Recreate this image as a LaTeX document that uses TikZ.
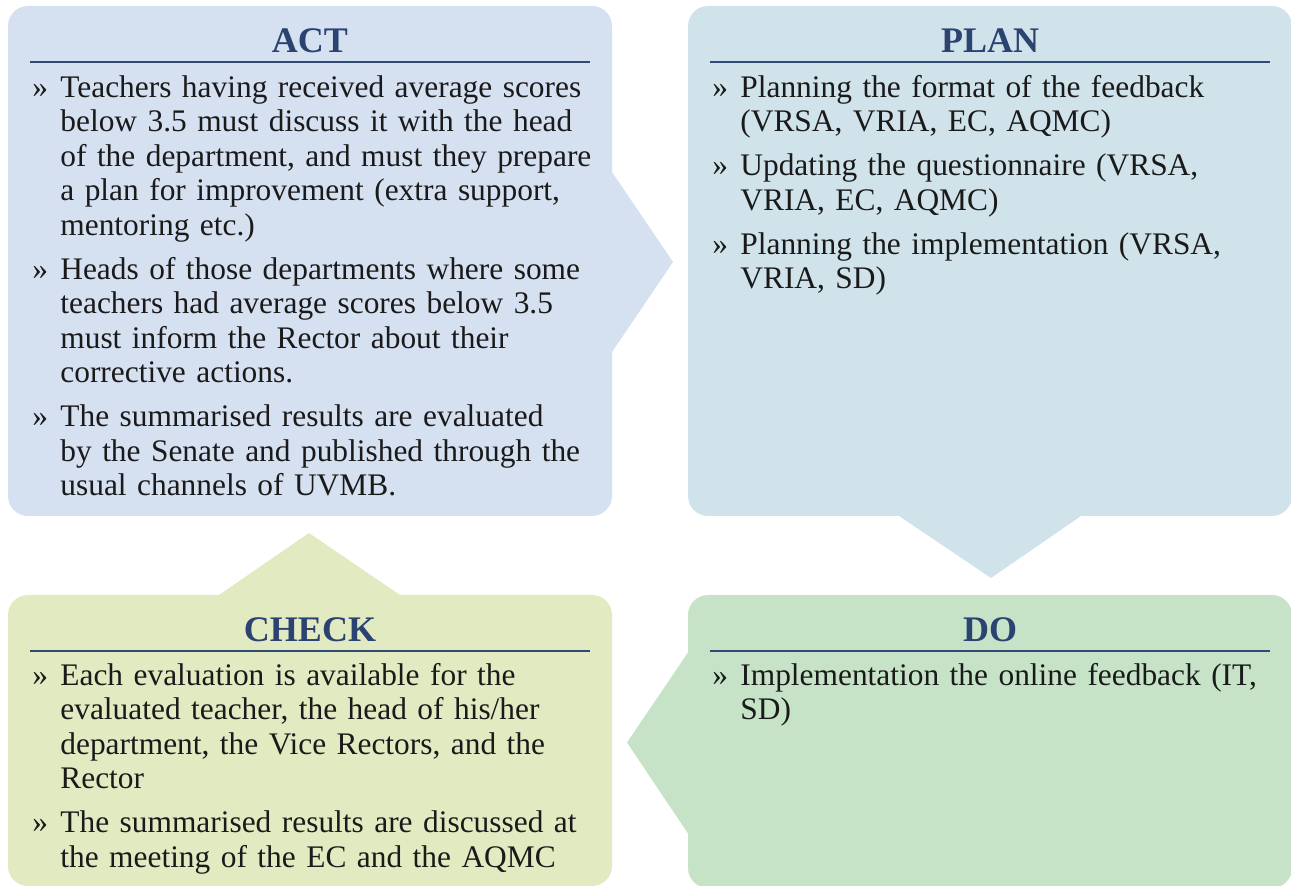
\documentclass[tikz,border=0pt]{standalone}
\usepackage{fontspec}
\setmainfont{Liberation Serif}
\usepackage{xcolor}
\newcommand{\StageAct}
{ACT}
\newcommand{\StagePlan}
{PLAN}
\newcommand{\StageDo}
{DO}
\newcommand{\StageCheck}
{CHECK}
\newcommand{\StageItem}
{\par\leftskip=14pt\noindent\strut\llap{\makebox[14pt][l]{»}}}
\usetikzlibrary{calc}

\begin{document}
\begin{tikzpicture}[x=0.5pt, y=-0.5pt,
    stagebox/.style={rounded corners=10pt, inner sep=0pt, outer sep=0pt, minimum width=302pt},
    stagetitle/.style={anchor=base, font=\bfseries\fontsize{18}{20}\selectfont, text=titleblue},
    stagerule/.style={draw=ruleblue, line width=1pt},
    stagetext/.style={anchor=north west, inner sep=0pt, text width=290pt, align=left,
        font=\fontsize{15.7}{17.25}\selectfont, text=textblack,
        execute at begin node={\setlength{\parskip}{4.75pt}}}]
    \useasboundingbox (0,0) rectangle (1291,886);

    % Define colors
    \definecolor{actfill}{RGB}{213,224,241}
    \definecolor{planfill}{RGB}{208,227,234}
    \definecolor{checkfill}{RGB}{226,234,194}
    \definecolor{dofill}{RGB}{198,227,200}
    \definecolor{titleblue}{RGB}{43,67,113}
    \definecolor{ruleblue}{RGB}{46,74,117}
    \definecolor{textblack}{RGB}{26,26,26}

    % Draw four stage boxes
    \node[stagebox, fill=actfill, minimum height=255pt] (act) at (310,261) {};
    \node[stagebox, fill=planfill, minimum height=255pt] (plan) at (990,261) {};
    \node[stagebox, fill=checkfill, minimum height=145.5pt] (check) at (310,740.5) {};
    \node[stagebox, fill=dofill, minimum height=146.5pt] (do) at (990,741.5) {};

    % Draw arrow heads from one stage to the next
    \fill[actfill] ($(act.east)+(0,-89)$) -- ($(act.east)+(61,1)$) -- ($(act.east)+(0,91)$) -- cycle;
    \fill[planfill] ($(plan.south)+(-91,0)$) -- ($(plan.south)+(1,62)$) -- ($(plan.south)+(91,0)$) -- cycle;
    \fill[dofill] ($(do.west)+(0,-89)$) -- ($(do.west)+(-61,1)$) -- ($(do.west)+(0,92)$) -- cycle;
    \fill[checkfill] ($(check.north)+(-91,0)$) -- ($(check.north)+(-1,-62)$) -- ($(check.north)+(90,0)$) -- cycle;

    % Set stage titles
    \node[stagetitle] (acttitle) at ($(act.north)+(0,47)$) {\StageAct};
    \node[stagetitle] (plantitle) at ($(plan.north)+(0,47)$) {\StagePlan};
    \node[stagetitle] (checktitle) at ($(check.north)+(0,47)$) {\StageCheck};
    \node[stagetitle] (dotitle) at ($(do.north)+(0,47)$) {\StageDo};

    % Rules under the titles
    \draw[stagerule] ($(act.north west)+(22,56)$) -- ($(act.north east)+(-22,56)$);
    \draw[stagerule] ($(plan.north west)+(22,56)$) -- ($(plan.north east)+(-22,56)$);
    \draw[stagerule] ($(check.north west)+(22,56)$) -- ($(check.north east)+(-22,56)$);
    \draw[stagerule] ($(do.north west)+(22,56)$) -- ($(do.north east)+(-22,56)$);

    % Stage texts
    \node[stagetext] (acttext) at ($(act.north west)+(24,47)$) {%
        \StageItem Teachers having received average scores\\
        below 3.5 must discuss it with the head\\
        of the department, and must they prepare\\
        a plan for improvement (extra support,\\
        mentoring etc.)
        \StageItem Heads of those departments where some\\
        teachers had average scores below 3.5\\
        must inform the Rector about their\\
        corrective actions.
        \StageItem The summarised results are evaluated\\
        by the Senate and published through the\\
        usual channels of UVMB.\par};
    \node[stagetext] (plantext) at ($(plan.north west)+(24,47)$) {%
        \StageItem Planning the format of the feedback\\
        (VRSA, VRIA, EC, AQMC)
        \StageItem Updating the questionnaire (VRSA,\\
        VRIA, EC, AQMC)
        \StageItem Planning the implementation (VRSA,\\
        VRIA, SD)\par};
    \node[stagetext] (checktext) at ($(check.north west)+(24,46)$) {%
        \StageItem Each evaluation is available for the\\
        evaluated teacher, the head of his/her\\
        department, the Vice Rectors, and the\\
        Rector
        \StageItem The summarised results are discussed at\\
        the meeting of the EC and the AQMC\par};
    \node[stagetext] (dotext) at ($(do.north west)+(24,46)$) {%
        \StageItem Implementation the online feedback (IT,\\
        SD)\par};

\end{tikzpicture}
\end{document}
